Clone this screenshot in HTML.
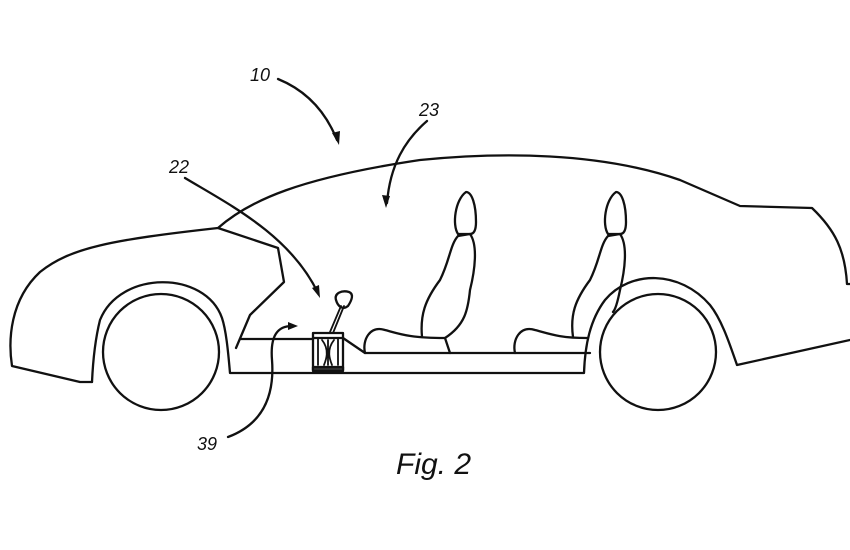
<!DOCTYPE html>
<html><head><style>html,body{margin:0;padding:0;background:#fff}svg{display:block}</style></head><body>
<svg width="850" height="550" viewBox="0 0 850 550" xmlns="http://www.w3.org/2000/svg">
<g fill="none" stroke="#111" stroke-width="2.3" stroke-linejoin="round" stroke-linecap="round">
<path d="M92,382 L80,382 L12,366 C8,340 10,300 40,272 C70,248 110,240 218,228 C250,200 300,178 420,160 C500,152 600,152 680,180 L740,206 L812,208 C835,230 845,250 847,284 L850,284"/>
<path d="M850,340 L737,365 C730,345 722,320 710,305 C680,270 630,270 605,300 C590,320 585,345 584,373 L230,373 C228,350 226,330 222,318 C205,270 120,270 100,320 C95,340 93,360 92,382"/>
<path d="M218,228 L278,248 L284,282 L250,315 L236,348"/>
<circle cx="161" cy="352" r="58"/>
<circle cx="658" cy="352" r="58"/>
<path d="M240,339 L313,339"/>
<path d="M343,338 L365,353 L590,353"/>
<rect x="313" y="333" width="30" height="37"/>
<line x1="313" y1="338" x2="343" y2="338"/>
<rect x="313" y="367" width="30" height="4" fill="#333"/>
<path d="M318,338 L318,365 M338,338 L338,365 M322,340 C330,350 326,360 324,365 M334,340 C326,350 330,360 332,365 M328,340 L328,365" stroke-width="1.8"/>
<path d="M330,332 L341,306 M333,333 L344,306" stroke-width="1.8"/>
<path d="M336,300 C334,293 342,290 349,292 C354,294 352,300 348,306 C343,310 338,307 336,300 Z"/>
<path d="M365,353 C362,340 370,325 385,330 C400,334 410,338 445,338 L450,353"/>
<path d="M422,337 C420,315 425,300 440,280 C450,260 450,245 458,236 L470,234 C478,245 475,270 470,290 C468,310 465,325 445,338"/>
<path d="M458,234 C452,225 455,200 466,192 C472,192 476,205 476,222 C476,230 474,234 470,234 Z"/>
<path d="M515,353 C512,340 520,325 535,330 C550,334 560,338 587,338"/>
<path d="M573,337 C570,315 575,300 590,280 C600,260 600,245 608,236 L620,234 C628,245 625,270 620,290 C617,305 615,310 613,312"/>
<path d="M608,234 C602,225 605,200 616,192 C622,192 626,205 626,222 C626,230 624,234 620,234 Z"/>
</g>
<g fill="none" stroke="#111" stroke-width="2.3" stroke-linecap="round">
<path d="M278,79 C305,90 325,110 337,140"/>
<path d="M427,121 C405,140 390,165 387,203"/>
<path d="M185,178 C230,205 290,235 318,293"/>
<path d="M228,437 C260,425 275,400 272,360 C270,335 278,326 292,326"/>
</g>
<g fill="#111">
<path d="M339,145 L332,133 L340,131 Z"/>
<path d="M386,208 L382,195 L390,196 Z"/>
<path d="M320,298 L312,288 L319,285 Z"/>
<path d="M298,326 L288,322 L288,330 Z"/>
</g>
<g font-family="Liberation Sans, sans-serif" font-style="italic" fill="#111">
<text x="250" y="81" font-size="18">10</text>
<text x="419" y="116" font-size="18">23</text>
<text x="169" y="173" font-size="18">22</text>
<text x="197" y="450" font-size="18">39</text>
<text x="396" y="474" font-size="30">Fig. 2</text>
</g>
</svg>
</body></html>
